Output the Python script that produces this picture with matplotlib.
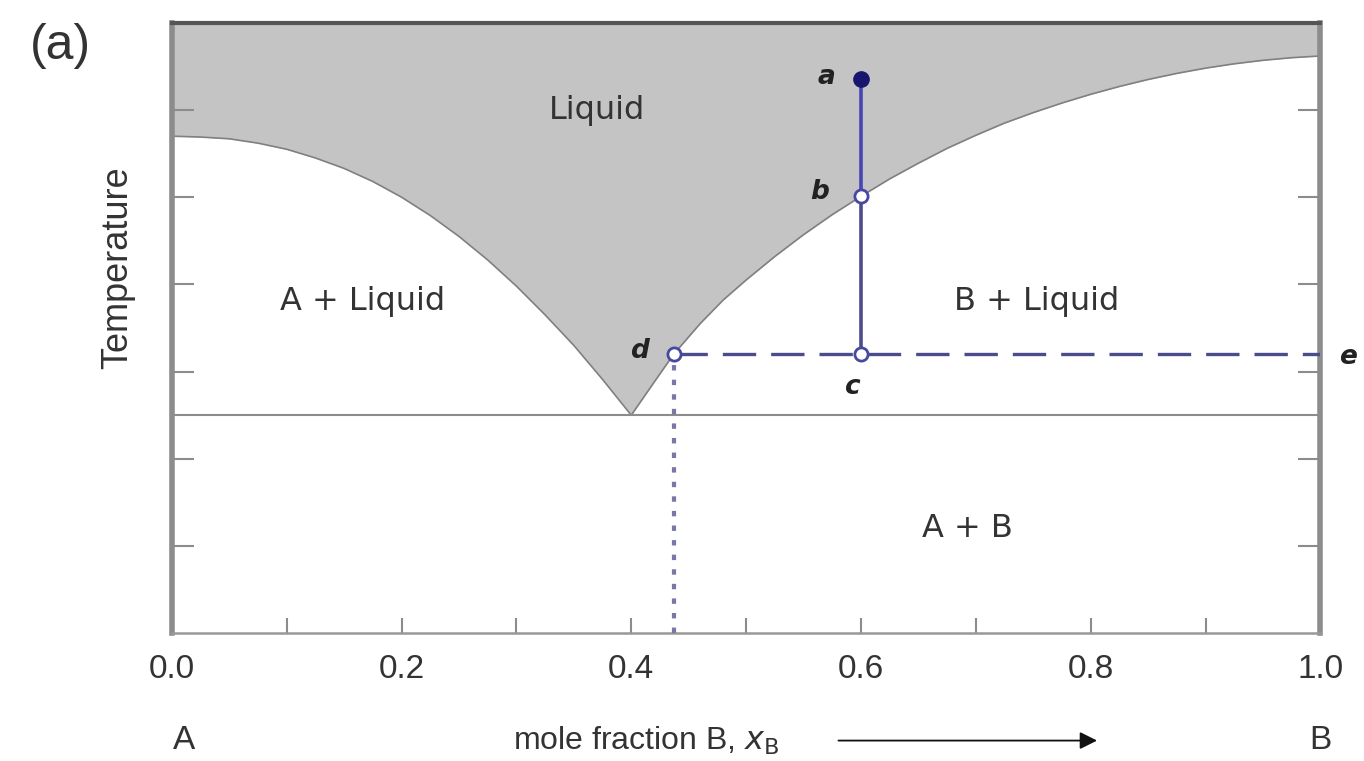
import numpy as np
import matplotlib
matplotlib.use("Agg")
import matplotlib.pyplot as plt

plt.rcParams['font.family'] = ['Liberation Sans', 'DejaVu Sans']

# liquidus curves (x_B, temperature in axis units)
left_x = [0.0, 0.025, 0.05, 0.075, 0.10, 0.125, 0.15, 0.175, 0.20, 0.225,
          0.25, 0.275, 0.30, 0.325, 0.35, 0.375, 0.40]
left_t = [5.70, 5.69, 5.67, 5.62, 5.55, 5.45, 5.33, 5.18, 5.00, 4.79,
          4.55, 4.28, 3.98, 3.65, 3.30, 2.91, 2.50]
right_x = [0.40, 0.42, 0.437, 0.46, 0.48, 0.50, 0.525, 0.55, 0.575, 0.60,
           0.625, 0.65, 0.675, 0.70, 0.725, 0.75, 0.775, 0.80, 0.825, 0.85,
           0.875, 0.90, 0.925, 0.95, 0.975, 1.0]
right_t = [2.50, 2.88, 3.20, 3.55, 3.82, 4.05, 4.32, 4.57, 4.80, 5.01,
           5.21, 5.39, 5.56, 5.71, 5.85, 5.97, 6.08, 6.18, 6.27, 6.35,
           6.42, 6.48, 6.53, 6.57, 6.60, 6.62]
eutectic_t = 2.5

# cooling path points
path_x = 0.6
t_a, t_b, t_c = 6.36, 5.01, 3.20
d_x = 0.437

xtick_vals = [0.0, 0.1, 0.2, 0.3, 0.4, 0.5, 0.6, 0.7, 0.8, 0.9, 1.0]
xtick_labels = ['0.0', '', '0.2', '', '0.4', '', '0.6', '', '0.8', '', '1.0']
ytick_vals = [1, 2, 3, 4, 5, 6]

regions = [("Liquid", 0.37, 6.0), ("A + Liquid", 0.166, 3.8),
           ("B + Liquid", 0.753, 3.8), ("A + B", 0.693, 1.2)]

fig = plt.figure(figsize=(13.64, 7.61), dpi=100)
ax = fig.add_axes([0.126, 0.168, 0.842, 0.802])

curve_x = np.concatenate([left_x, right_x[1:]])
curve_t = np.concatenate([left_t, right_t[1:]])
ax.fill_between(curve_x, curve_t, 7, color='#c4c4c4', lw=0, zorder=1)
ax.plot(curve_x, curve_t, color='#808080', lw=1.2, zorder=2)
ax.axhline(eutectic_t, color='#8c8c8c', lw=1.5, zorder=2)

# cooling path a -> b -> c and tie line d - e
ax.plot([path_x, path_x], [t_a, t_b], color='#4646b4', lw=2.6, zorder=3)
ax.plot([path_x, path_x], [t_b, t_c], color='#4c4c8c', lw=2.6, zorder=3)
ax.plot([d_x, 1.0], [t_c, t_c], color='#4c4c8c', lw=2.4,
        ls=(0, (10, 4.5)), zorder=3)
ax.plot([d_x, d_x], [0, t_c], color='#7878a8', lw=3,
        ls=(0, (1.3, 2.2)), zorder=3, clip_on=False)
ax.plot([path_x], [t_a], 'o', ms=11, color='#16166e', zorder=4)
ax.plot([path_x, path_x, d_x], [t_b, t_c, t_c], 'o', ms=9.5, mfc='white',
        mec='#4848a0', mew=2, zorder=4)

lbl = dict(fontsize=19, fontstyle='italic', fontweight='bold',
           family='DejaVu Sans', color='#222222', ha='center', va='center')
ax.text(0.570, 6.38, 'a', **lbl)
ax.text(0.564, 5.06, 'b', **lbl)
ax.text(0.592, 2.82, 'c', **lbl)
ax.text(0.407, 3.24, 'd', **lbl)
ax.text(1.024, 3.17, 'e', clip_on=False, **lbl)

for name, x, y in regions:
    ax.text(x, y, name, fontsize=23, family='DejaVu Sans', color='#333333',
            ha='center', va='center')

ax.set_xlim(0, 1)
ax.set_ylim(0, 7)
ax.set_xticks(xtick_vals)
ax.set_xticklabels(xtick_labels)
ax.set_yticks(ytick_vals)
ax.set_yticklabels([])
ax.tick_params(axis='x', direction='in', length=11, width=1.5, color='#8c8c8c',
               labelsize=24, pad=15, labelcolor='#333333')
ax.tick_params(axis='y', direction='in', length=16, width=1.5, color='#8c8c8c',
               left=True, right=True)

ax.spines['left'].set_color('#8c8c8c')
ax.spines['left'].set_linewidth(4)
ax.spines['right'].set_color('#8c8c8c')
ax.spines['right'].set_linewidth(4)
ax.spines['bottom'].set_color('#999999')
ax.spines['bottom'].set_linewidth(1.8)
ax.spines['top'].set_color('#555555')
ax.spines['top'].set_linewidth(3)

# bottom annotations
xt = ax.get_xaxis_transform()
ax.text(0.011, -0.176, 'A', transform=xt, fontsize=24, color='#333333',
        ha='center', va='center')
ax.text(1.0, -0.176, 'B', transform=xt, fontsize=24, color='#333333',
        ha='center', va='center')
ax.text(0.297, -0.176, 'mole fraction B, $x_{\\mathrm{B}}$', transform=xt,
        fontsize=23, color='#333333', ha='left', va='center')
ax.annotate('', xy=(0.808, -0.176), xytext=(0.578, -0.176), xycoords=xt,
            textcoords=xt, annotation_clip=False,
            arrowprops=dict(arrowstyle='-|>', color='#111111', lw=1.3,
                            mutation_scale=26))

fig.text(0.0865, 0.648, 'Temperature', rotation=90, fontsize=26,
         color='#333333', ha='center', va='center')
fig.text(0.044, 0.94, '(a)', fontsize=36, color='#333333',
         ha='center', va='center')

fig.savefig('out.png', dpi=100)
